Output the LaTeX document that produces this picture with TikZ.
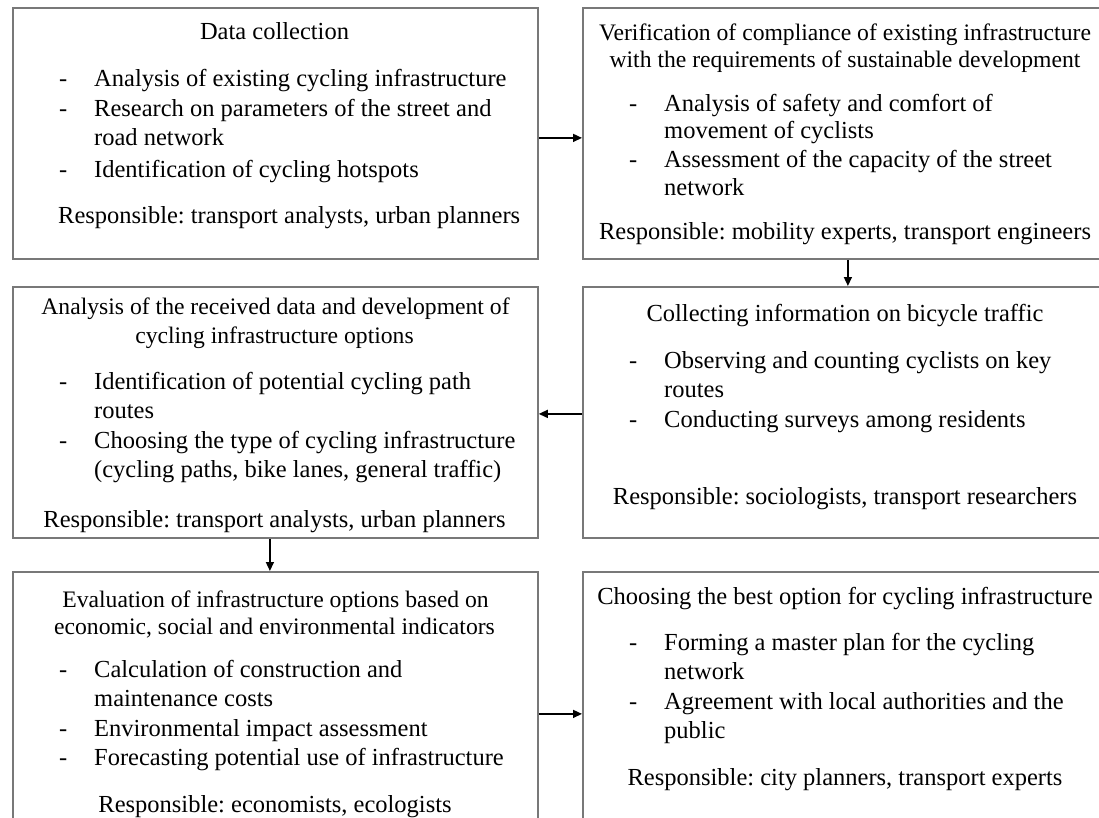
\documentclass[tikz,border=0pt]{standalone}
\usepackage{fontspec}
\setmainfont{Liberation Serif}
\usetikzlibrary{arrows.meta}
\definecolor{boxgray}{RGB}{120,120,120}
\frenchspacing
\begin{document}
\begin{tikzpicture}[x=1pt,y=-1pt,
  box/.style={draw=boxgray, line width=1.8pt, rectangle, inner sep=0pt, anchor=north west},
  arr/.style={draw=black, line width=1.5pt, -{Triangle[length=9pt,width=8pt]}},
  txl/.style={font=\fontsize{24.5}{29}\selectfont\frenchspacing, inner sep=0pt, anchor=base west, text=black},
  txc/.style={font=\fontsize{24.5}{29}\selectfont\frenchspacing, inner sep=0pt, anchor=base, text=black},
  txs/.style={font=\fontsize{23.65}{28}\selectfont\frenchspacing, inner sep=0pt, anchor=base, text=black}]
\useasboundingbox (0,0) rectangle (1099,818);
\clip (0,0) rectangle (1099,818);
\fill[white] (0,0) rectangle (1099,818);

% boxes
\node[box, minimum width=525pt, minimum height=251pt] (b1) at (12,7) {};
\node[box, minimum width=526pt, minimum height=251pt] (b2) at (582,7) {};
\node[box, minimum width=525pt, minimum height=251pt] (b3) at (12,286) {};
\node[box, minimum width=526pt, minimum height=251pt] (b4) at (582,286) {};
\node[box, minimum width=525pt, minimum height=259pt] (b5) at (12,571) {};
\node[box, minimum width=526pt, minimum height=259pt] (b6) at (582,571) {};

% connectors
\draw[arr] ([yshift=-4.5pt]b1.east) -- ([yshift=-4.5pt]b2.west);
\draw[arr] ([xshift=2pt]b2.south) -- ([xshift=2pt]b4.north);
\draw[arr] ([yshift=-1.5pt]b4.west) -- ([yshift=-1.5pt]b3.east);
\draw[arr] ([xshift=-5.5pt]b3.south) -- ([xshift=-5.5pt]b5.north);
\draw[arr] ([yshift=-12.5pt]b5.east) -- ([yshift=-12.5pt]b6.west);

% box 1
\node[txc] (b1t) at (274.5,40) {Data collection};
\node[txl] (b1d1) at (59,87) {-};
\node[txl] (b1i1) at (94,87) {Analysis of existing cycling infrastructure};
\node[txl] (b1d2) at (59,117) {-};
\node[txl] (b1i2) at (94,117) {Research on parameters of the street and};
\node[txl] (b1i2b) at (94,146) {road network};
\node[txl] (b1d3) at (59,178) {-};
\node[txl] (b1i3) at (94,178) {Identification of cycling hotspots};
\node[txl] (b1r) at (58,224) {Responsible: transport analysts, urban planners};

% box 2
\node[txs] (b2t1) at (845,41) {Verification of compliance of existing infrastructure};
\node[txs] (b2t2) at (845,68) {with the requirements of sustainable development};
\node[txl] (b2d1) at (629,112) {-};
\node[txl] (b2i1) at (664,112) {Analysis of safety and comfort of};
\node[txl] (b2i1b) at (664,139) {movement of cyclists};
\node[txl] (b2d2) at (629,168) {-};
\node[txl] (b2i2) at (664,168) {Assessment of the capacity of the street};
\node[txl] (b2i2b) at (664,196) {network};
\node[txc] (b2r) at (845,240) {Responsible: mobility experts, transport engineers};

% box 3
\node[txs] (b3t1) at (275.5,314) {Analysis of the received data and development of};
\node[txs] (b3t2) at (274.5,343) {cycling infrastructure options};
\node[txl] (b3d1) at (59,389) {-};
\node[txl] (b3i1) at (94,389) {Identification of potential cycling path};
\node[txl] (b3i1b) at (94,418) {routes};
\node[txl] (b3d2) at (59,448) {-};
\node[txl] (b3i2) at (94,448) {Choosing the type of cycling infrastructure};
\node[txl] (b3i2b) at (94,477) {(cycling paths, bike lanes, general traffic)};
\node[txc] (b3r) at (274.5,527) {Responsible: transport analysts, urban planners};

% box 4
\node[txc] (b4t) at (845,321) {Collecting information on bicycle traffic};
\node[txl] (b4d1) at (629,368) {-};
\node[txl] (b4i1) at (664,368) {Observing and counting cyclists on key};
\node[txl] (b4i1b) at (664,397) {routes};
\node[txl] (b4d2) at (629,427) {-};
\node[txl] (b4i2) at (664,427) {Conducting surveys among residents};
\node[txc] (b4r) at (845,504) {Responsible: sociologists, transport researchers};

% box 5
\node[txs] (b5t1) at (275.5,607) {Evaluation of infrastructure options based on};
\node[txs] (b5t2) at (274.5,634) {economic, social and environmental indicators};
\node[txl] (b5d1) at (59,677) {-};
\node[txl] (b5i1) at (94,677) {Calculation of construction and};
\node[txl] (b5i1b) at (94,706) {maintenance costs};
\node[txl] (b5d2) at (59,736) {-};
\node[txl] (b5i2) at (94,736) {Environmental impact assessment};
\node[txl] (b5d3) at (59,765) {-};
\node[txl] (b5i3) at (94,765) {Forecasting potential use of infrastructure};
\node[txc] (b5r) at (275,812) {Responsible: economists, ecologists};

% box 6
\node[txc] (b6t) at (845,604) {Choosing the best option for cycling infrastructure};
\node[txl] (b6d1) at (629,650) {-};
\node[txl] (b6i1) at (664,650) {Forming a master plan for the cycling};
\node[txl] (b6i1b) at (664,679) {network};
\node[txl] (b6d2) at (629,709) {-};
\node[txl] (b6i2) at (664,709) {Agreement with local authorities and the};
\node[txl] (b6i2b) at (664,738) {public};
\node[txc] (b6r) at (845,785) {Responsible: city planners, transport experts};
\end{tikzpicture}
\end{document}
